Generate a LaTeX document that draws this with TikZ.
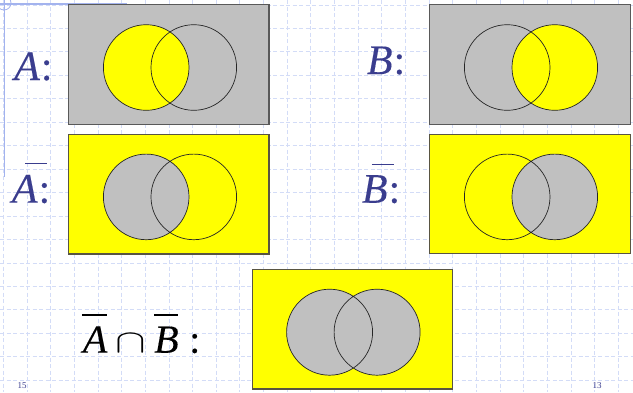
\documentclass[tikz,border=0pt]{standalone}
\usepackage{fontspec}
\setmainfont{Liberation Serif}
\newfontfamily\labfam[FakeBold=0.2]{Liberation Serif}
\usepackage{graphicx}
\definecolor{gridc}{HTML}{D3DCF7}
\definecolor{lab}{HTML}{3A3D8E}
\definecolor{yel}{HTML}{FFFF00}
\definecolor{gry}{HTML}{C0C0C0}
\definecolor{deco}{HTML}{A3B3EE}
\newcommand\obar[4]{\rlap{\kern#1\rule[#3]{#2}{1.6pt}}#4}
\newcommand\li[1]{{\labfam\itshape #1}}
\newcommand\lr[1]{{\labfam\upshape #1}}
\tikzset{
  gridline/.style={gridc, line width=0.9pt, dash pattern=on 4pt off 2.5pt},
  graybox/.style={draw=black!65, line width=1.3pt},
  yelbox/.style={draw=yellow!25!black, line width=1.3pt},
  circ/.style={draw=black!85, line width=0.7pt},
  lbl/.style={anchor=base west, inner sep=0pt, text=lab, font=\fontsize{42}{42}\selectfont},
  frm/.style={anchor=base west, inner sep=0pt, text=black, font=\fontsize{40}{40}\selectfont},
  pnum/.style={anchor=north west, inner sep=0pt, text=lab, font=\fontsize{9}{9}\selectfont},
}
\begin{document}
\begin{tikzpicture}[x=1pt,y=-1pt]
\useasboundingbox (0,0) rectangle (633,392);
\clip (0,0) rectangle (633,392);
\fill[white] (0,0) rectangle (633,392);
% grid
\foreach \k in {0,...,26} \draw[gridline] ({3.4+23.65*\k},0) -- ({3.4+23.65*\k},392);
\foreach \k in {0,...,16} \draw[gridline] (0,{5+23.45*\k}) -- (633,{5+23.45*\k});
% decoration
\draw[deco, line width=1.4pt] (4.5,0) -- (4.5,177);
\draw[deco, line width=1.4pt] (0,4) -- (127,4);
\draw[deco, line width=0.8pt] (4,3) circle[radius=7pt];
% A
\begin{scope}[shift={(68.3,4.3)}]
  \fill[gry] (0,0) rectangle (200.7,120);
  \fill[yel] (77.9,63.2) circle[radius=42.8pt];
  \draw[circ] (77.9,63.2) circle[radius=42.8pt] (125.5,63.2) circle[radius=42.8pt];
  \draw[graybox] (0,0) rectangle (200.7,120);
\end{scope}
% A bar
\begin{scope}[shift={(68.3,134.3)}]
  \fill[yel] (0,0) rectangle (200.7,119.7);
  \fill[gry] (77.9,62.6) circle[radius=42.8pt];
  \draw[circ] (77.9,62.6) circle[radius=42.8pt] (125.5,62.6) circle[radius=42.8pt];
  \draw[yelbox] (0,0) rectangle (200.7,119.7);
\end{scope}
% B
\begin{scope}[shift={(429.3,4.3)}]
  \fill[gry] (0,0) rectangle (201.4,120);
  \fill[yel] (125.5,63.2) circle[radius=42.8pt];
  \draw[circ] (77.9,63.2) circle[radius=42.8pt] (125.5,63.2) circle[radius=42.8pt];
  \draw[graybox] (0,0) rectangle (201.4,120);
\end{scope}
% B bar
\begin{scope}[shift={(429.3,134.3)}]
  \fill[yel] (0,0) rectangle (201.4,119.4);
  \fill[gry] (125.5,62.6) circle[radius=42.8pt];
  \draw[circ] (77.9,62.6) circle[radius=42.8pt] (125.5,62.6) circle[radius=42.8pt];
  \draw[yelbox] (0,0) rectangle (201.4,119.4);
\end{scope}
% A bar cap B bar
\begin{scope}[shift={(252.3,269.3)}]
  \fill[yel] (0,0) rectangle (200,119.7);
  \fill[gry] (77.3,62.9) circle[radius=43pt] (124.8,62.9) circle[radius=43pt];
  \draw[circ] (77.3,62.9) circle[radius=43pt] (124.8,62.9) circle[radius=43pt];
  \draw[yelbox] (0,0) rectangle (200,119.7);
\end{scope}
% labels
\node[lbl] (la) at (14,80) {\li{A}\kern1pt\lr{:}};
\node[lbl] (lab) at (11.7,202.7) {\obar{13.3pt}{21.7pt}{38.5pt}{\li{A}}\kern1pt\lr{:}};
\node[lbl] (lb) at (366.7,74) {\li{B}\kern1pt\lr{:}};
\node[lbl] (lbb) at (361.7,202.7) {\obar{10pt}{21.7pt}{37.5pt}{\li{B}}\kern1pt\lr{:}};
% formula
\node[frm] (fa) at (82.7,352.7) {\obar{-1pt}{25.6pt}{36.9pt}{\li{A}}};
\node[frm] (fcap) at (115,352.7) {\fontsize{10}{10}\selectfont\scalebox{4.6}[3.3]{$\cap$}};
\node[frm] (fb) at (154,352.7) {\obar{0pt}{24pt}{36.9pt}{\li{B}}};
\node[frm] (fcol) at (189,352.7) {\lr{:}};
% page numbers
\node[pnum] (p1) at (17.5,382) {15};
\node[pnum] (p2) at (592.5,382) {13};
\end{tikzpicture}
\end{document}
